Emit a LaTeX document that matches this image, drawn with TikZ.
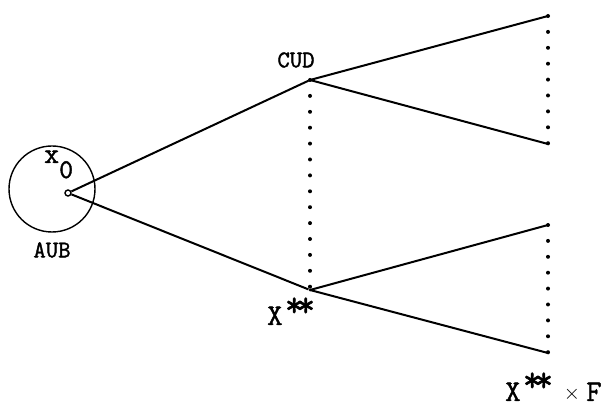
\documentclass[tikz,border=0pt]{standalone}
\usepackage{fontspec}
\newfontfamily\tyfont{Latin Modern Mono}[FakeBold=1.5]
\begin{document}
\begin{tikzpicture}[x=1pt,y=1pt,
  edge/.style={line width=2pt},
  dotline/.style={line width=4pt,line cap=round,dash pattern=on 0pt off 15.9pt},
  lbl/.style={font=\fontsize{24}{26}\selectfont\tyfont\bfseries,inner sep=0pt},
  big/.style={font=\fontsize{30}{32}\selectfont\tyfont\bfseries,inner sep=0pt,anchor=base west},
  stars/.style={font=\fontsize{36}{38}\selectfont\tyfont\bfseries,inner sep=0pt},
  pt/.style={circle,fill=black,inner sep=0pt,minimum size=3pt}]
\useasboundingbox (0,0) rectangle (608,407);
\draw[line width=1.4pt] (52,218) circle (43);
\node[circle,draw,line width=1.4pt,inner sep=0pt,minimum size=6pt] (x0) at (68,214) {};
\node[big,font=\fontsize{29}{30}\selectfont\tyfont\bfseries] (x0l) at (44,244) {x};
\node[big,font=\fontsize{27}{30}\selectfont\tyfont\bfseries] (x0s) at (59,229) {0};
\node[lbl] (aub) at (52,157) {AUB};
\node[pt] (cud) at (310,327) {};
\node[pt] (xs) at (310,117) {};
\node[lbl] (cudl) at (296,347) {CUD};
\node[big] (xsl) at (267,82) {X};
\node[stars] (xss) at (300,100) {*\kern-7pt*};
\node[pt] (t1) at (548,391) {};
\node[pt] (t2) at (548,263) {};
\node[pt] (b1) at (548,182) {};
\node[pt] (b2) at (548,54) {};
\node[big] (xfx) at (505,6) {X};
\node[stars] (xfs) at (538,25) {*\kern-7pt*};
\node[inner sep=0pt,font=\fontsize{20}{22}\selectfont] (xft) at (572,13) {$\times$};
\node[big] (xff) at (586,6) {F};
\draw[edge] (x0) -- (cud);
\draw[edge] (x0) -- (xs);
\draw[edge] (cud.center) -- (t1.center);
\draw[edge] (cud.center) -- (t2.center);
\draw[edge] (xs.center) -- (b1.center);
\draw[edge] (xs.center) -- (b2.center);
\draw[dotline] (t1.center) -- (t2.center);
\draw[dotline] (b1.center) -- (b2.center);
\draw[dotline] (cud.center) -- (xs.center);
\end{tikzpicture}
\end{document}
